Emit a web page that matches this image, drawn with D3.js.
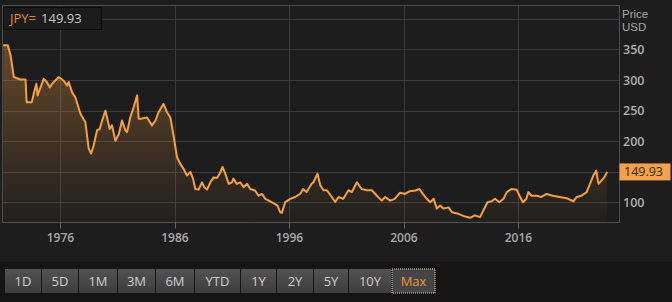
<!DOCTYPE html>
<html>
<head>
<meta charset="utf-8">
<script src="https://cdn.jsdelivr.net/npm/d3@7"></script>
<style>
  body { margin: 0; background: #1d1d1d; }
  svg { display: block; font-family: "Open Sans", "Liberation Sans", sans-serif; }
</style>
</head>
<body>
<div id="chart"></div>
<script>
// USD/JPY (decimal year, price)
const dates = [
  1971.0, 1971.4, 1971.65, 1971.93, 1972.5, 1972.95, 1973.05, 1973.5, 1973.67, 1973.9,
  1974.0, 1974.54, 1974.84, 1975.07, 1975.27, 1975.85, 1976.29, 1976.58, 1976.72, 1977.02,
  1977.3, 1977.75, 1978.18, 1978.47, 1978.68, 1978.9, 1979.2, 1979.43, 1979.64, 1979.93,
  1980.07, 1980.3, 1980.5, 1980.8, 1981.1, 1981.38, 1981.67, 1981.82, 1982.1, 1982.4,
  1982.7, 1982.83, 1983.0, 1983.56, 1984.0, 1984.3, 1984.58, 1985.0, 1985.3, 1985.6,
  1985.9, 1986.18, 1986.47, 1986.76, 1987.05, 1987.35, 1987.58, 1987.78, 1988.07, 1988.36,
  1988.57, 1988.8, 1989.09, 1989.38, 1989.67, 1989.9, 1990.16, 1990.4, 1990.7, 1990.98,
  1991.1, 1991.4, 1991.7, 1992.0, 1992.3, 1992.58, 1993.0, 1993.3, 1993.6, 1993.9,
  1994.2, 1994.6, 1994.96, 1995.2, 1995.34, 1995.63, 1996.07, 1996.5, 1996.94, 1997.2,
  1997.5, 1997.94, 1998.1, 1998.45, 1998.7, 1998.98, 1999.27, 1999.7, 2000.0, 2000.3,
  2000.7, 2001.16, 2001.45, 2001.9, 2002.3, 2002.77, 2003.2, 2003.64, 2004.07, 2004.36,
  2004.8, 2005.2, 2005.67, 2006.1, 2006.5, 2007.0, 2007.35, 2007.65, 2008.0, 2008.3,
  2008.6, 2008.87, 2009.16, 2009.45, 2009.9, 2010.2, 2010.75, 2011.35, 2011.78, 2012.2,
  2012.65, 2012.94, 2013.3, 2013.67, 2013.96, 2014.33, 2014.7, 2014.98, 2015.4, 2015.85,
  2016.1, 2016.4, 2016.7, 2016.87, 2017.15, 2017.6, 2018.0, 2018.46, 2019.0, 2019.6,
  2020.2, 2020.8, 2021.1, 2021.5, 2021.96, 2022.25, 2022.54, 2022.8, 2022.94, 2023.0,
  2023.4, 2023.5, 2023.75
]
const prices = [
  357, 357, 340, 305, 301, 301, 264, 264, 278, 294,
  275, 302, 296, 288, 294, 305, 299, 291, 297, 280,
  272, 245, 231, 188, 180, 193, 218, 220, 234, 250,
  239, 220, 226, 201, 212, 234, 218, 215, 239, 256,
  275, 237, 237, 239, 226, 234, 248, 261, 248, 239,
  207, 174, 163, 155, 144, 150, 139, 122, 121, 133,
  125, 121, 133, 141, 140, 147, 158, 147, 130.5, 133,
  139, 130.5, 133, 125, 130.5, 122, 119.6, 111, 114, 106,
  103, 99, 95, 84, 83, 100.5, 106, 109, 114, 122,
  117, 130.5, 133, 147, 128, 120, 120, 109, 101, 109,
  106, 120, 117, 133, 122, 120, 120, 111, 103, 109,
  103, 106, 116, 114, 118.5, 119.6, 122, 114, 106, 100.5,
  106, 90, 95, 90, 92, 84, 81.5, 77, 75, 79,
  76, 87, 100.5, 102, 106, 100.5, 106, 117, 122, 121,
  111, 100.5, 106, 117, 111, 111, 109, 114, 111, 109,
  107, 102, 109, 111, 117, 130.5, 144, 152, 136, 130.5,
  139, 141, 149.93
]
const lastPrice = "149.93"
const ricCode = "JPY="

const gridValues = [100, 150, 200, 250, 300, 350, 400]
const labelValues = [100, 200, 250, 300, 350]
const yearTicks = [1976, 1986, 1996, 2006, 2016]
const buttons = ["1D", "5D", "1M", "3M", "6M", "YTD", "1Y", "2Y", "5Y", "10Y", "Max"]
const buttonWidths = [36, 36, 38, 37, 38, 45, 35, 36, 34, 42, 43]

const width = 672, height = 302
const plot = { left: 2.5, right: 619.5, top: 5.5, bottom: 222.5 }

const svg = d3.select("#chart").append("svg")
  .attr("width", width)
  .attr("height", height)

// backgrounds
svg.append("rect").attr("width", width).attr("height", height).attr("fill", "#1d1d1d")
svg.append("rect").attr("x", 0).attr("y", 262).attr("width", width).attr("height", 40).attr("fill", "#151515")

const x = d3.scaleLinear().domain([1970.94, 2024.83]).range([plot.left, plot.right])
const y = d3.scaleLinear().domain([67.3, 421.9]).range([plot.bottom, plot.top])

const data = dates.map((d, i) => ({ t: d, v: prices[i] }))

// gradient for the area
const defs = svg.append("defs")
const grad = defs.append("linearGradient")
  .attr("id", "fillGrad")
  .attr("gradientUnits", "userSpaceOnUse")
  .attr("x1", 0).attr("y1", plot.top).attr("x2", 0).attr("y2", plot.bottom)
grad.append("stop").attr("offset", "0%").attr("stop-color", "#f0a040").attr("stop-opacity", 0.4)
grad.append("stop").attr("offset", "100%").attr("stop-color", "#f0a040").attr("stop-opacity", 0.02)

// grid
svg.append("g")
  .selectAll("line")
  .data(gridValues)
  .join("line")
  .attr("x1", plot.left).attr("x2", plot.right)
  .attr("y1", d => Math.round(y(d)) + 0.5).attr("y2", d => Math.round(y(d)) + 0.5)
  .attr("stroke", "#3a3a3a")

svg.append("g")
  .selectAll("line")
  .data(yearTicks)
  .join("line")
  .attr("x1", d => Math.round(x(d)) + 0.5).attr("x2", d => Math.round(x(d)) + 0.5)
  .attr("y1", plot.top).attr("y2", plot.bottom)
  .attr("stroke", "#3a3a3a")

// area + line
const area = d3.area().x(d => x(d.t)).y0(plot.bottom).y1(d => y(d.v))
const line = d3.line().x(d => x(d.t)).y(d => y(d.v))

svg.append("path").datum(data).attr("d", area).attr("fill", "url(#fillGrad)")
svg.append("path").datum(data).attr("d", line)
  .attr("fill", "none")
  .attr("stroke", "#f5a043")
  .attr("stroke-width", 2)
  .attr("stroke-linejoin", "round")

// frame
svg.append("rect")
  .attr("x", plot.left).attr("y", plot.top)
  .attr("width", plot.right - plot.left).attr("height", plot.bottom - plot.top)
  .attr("fill", "none").attr("stroke", "#4f4f4f")

// x axis ticks and labels
const xAxis = svg.append("g")
xAxis.selectAll("line")
  .data(yearTicks)
  .join("line")
  .attr("x1", d => Math.round(x(d)) + 0.5).attr("x2", d => Math.round(x(d)) + 0.5)
  .attr("y1", plot.bottom).attr("y2", plot.bottom + 6)
  .attr("stroke", "#666")
xAxis.selectAll("text")
  .data(yearTicks)
  .join("text")
  .attr("x", d => x(d))
  .attr("y", 242)
  .attr("text-anchor", "middle")
  .attr("font-size", 12)
  .attr("font-weight", 600)
  .attr("fill", "#a9a9a9")
  .text(d => d)

// y axis labels
svg.append("g")
  .selectAll("text")
  .data(labelValues)
  .join("text")
  .attr("x", 623)
  .attr("y", d => y(d) + 4.5)
  .attr("font-size", 12.5)
  .attr("font-weight", 600)
  .attr("fill", "#b0b0b0")
  .text(d => d)

svg.append("text").attr("x", 622).attr("y", 18).attr("font-family", "Liberation Sans, sans-serif")
  .attr("font-size", 11.5).attr("fill", "#a9a9a9").text("Price")
svg.append("text").attr("x", 622).attr("y", 31).attr("font-family", "Liberation Sans, sans-serif")
  .attr("font-size", 11.5).attr("fill", "#a9a9a9").text("USD")

// last price tag
const lastY = y(+lastPrice)
svg.append("rect")
  .attr("x", 619.5).attr("y", lastY - 8.5)
  .attr("width", 51).attr("height", 17)
  .attr("fill", "#f5a04a")
svg.append("text")
  .attr("x", 624).attr("y", lastY + 4.5)
  .attr("font-size", 12.5)
  .attr("fill", "#3a2608")
  .text(lastPrice)

// RIC box top left
svg.append("rect")
  .attr("x", 3.5).attr("y", 7.5).attr("width", 98).attr("height", 22)
  .attr("fill", "#1b1b1b").attr("stroke", "#0a0a0a")
const ric = svg.append("text").attr("x", 10).attr("y", 23).attr("font-size", 13)
ric.append("tspan").attr("fill", "#e8893a").text(ricCode)
ric.append("tspan").attr("fill", "#c8c8c8").attr("dx", 5).text(lastPrice)

// range buttons
let bx = 5
const btnData = buttons.map((b, i) => {
  const o = { label: b, x: bx, w: buttonWidths[i] }
  bx += buttonWidths[i] + 1
  return o
})
const bgrad = defs.append("linearGradient").attr("id", "btnGrad").attr("x1", 0).attr("y1", 0).attr("x2", 0).attr("y2", 1)
bgrad.append("stop").attr("offset", "0%").attr("stop-color", "#525252")
bgrad.append("stop").attr("offset", "100%").attr("stop-color", "#3d3d3d")

const btn = svg.append("g").selectAll("g")
  .data(btnData)
  .join("g")
  .attr("transform", d => "translate(" + d.x + ",269)")
btn.append("rect")
  .attr("width", d => d.w).attr("height", 24)
  .attr("fill", d => d.label == "Max" ? "#454545" : "url(#btnGrad)")
  .attr("stroke", d => d.label == "Max" ? "#e8c89a" : "none")
  .attr("stroke-dasharray", "1,1")
btn.append("text")
  .attr("x", d => d.w / 2).attr("y", 16.5)
  .attr("text-anchor", "middle")
  .attr("font-size", 13)
  .attr("fill", d => d.label == "Max" ? "#f0983c" : "#cfcfcf")
  .text(d => d.label)
</script>
</body>
</html>
